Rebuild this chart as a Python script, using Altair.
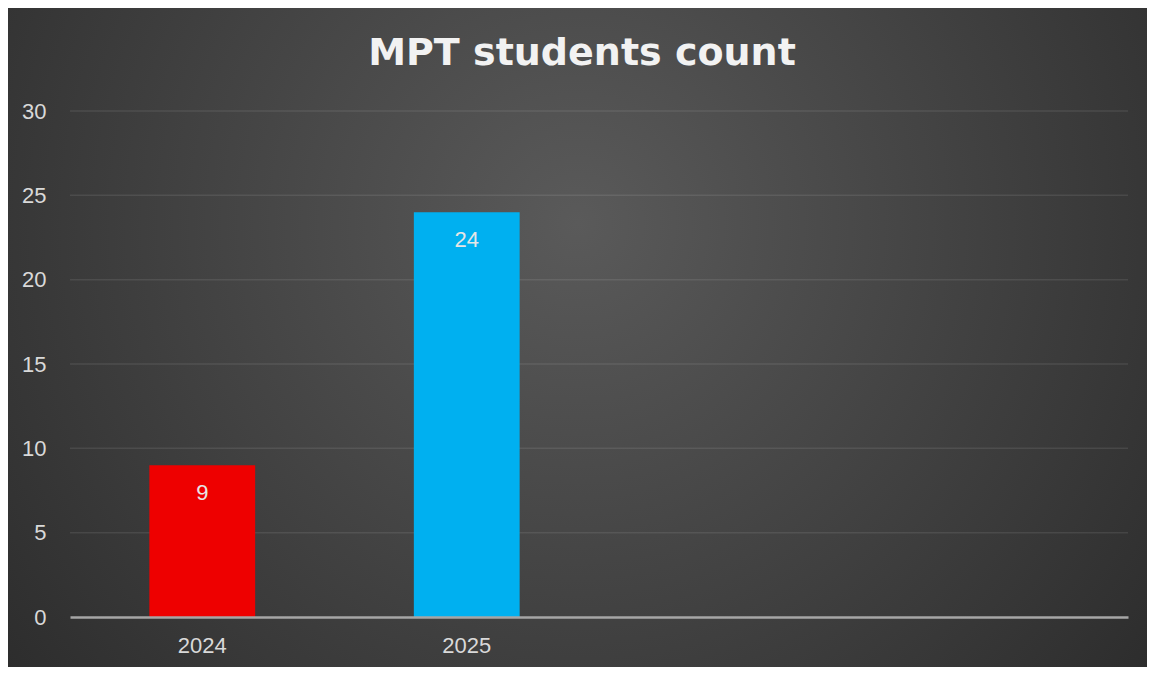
import altair as alt
import pandas as pd

categories = ["2024", "2025"]
values = [9, 24]
bar_colors = ["#EE0000", "#00B0F0"]
x_domain = ["2024", "2025", "slot3", "slot4"]
y_ticks = [0, 5, 10, 15, 20, 25, 30]

W, H = 1058, 506
PAD = {"left": 62, "top": 103, "right": 19, "bottom": 50}

df = pd.DataFrame({"year": categories, "count": values})
bg_df = pd.DataFrame({"k": [0]})
grid_df = pd.DataFrame({"tick": y_ticks[1:]})

xscale = alt.Scale(domain=x_domain, paddingInner=0.6, paddingOuter=0.3)
yscale = alt.Scale(domain=[0, 30])

yaxis = alt.Axis(
    title=None,
    values=y_ticks,
    labelFont="Liberation Sans",
    labelFontSize=22,
    labelColor="#d9d9d9",
    labelPadding=24,
    ticks=False,
    domain=False,
    grid=False,
    zindex=2,
)

bg = alt.Chart(bg_df).mark_rect(
    fill=alt.Gradient(
        gradient="radial",
        stops=[
            alt.GradientStop(offset=0, color="#5a5a5a"),
            alt.GradientStop(offset=1, color="#272727"),
        ],
        x1=0.5, y1=0.4, x2=0.5, y2=0.4, r1=0, r2=0.72,
    ),
).encode(
    x=alt.value(-PAD["left"]),
    x2=alt.value(W + PAD["right"]),
    y=alt.value(-PAD["top"]),
    y2=alt.value(H + PAD["bottom"]),
)

grid = alt.Chart(grid_df).mark_rule(color="#ffffff", opacity=0.09, strokeWidth=1.5).encode(
    y=alt.Y("tick:Q", scale=yscale, axis=yaxis),
    x=alt.value(0),
    x2=alt.value(W),
)

xenc = alt.X(
    "year:N",
    scale=xscale,
    axis=alt.Axis(
        title=None,
        labelAngle=0,
        labelExpr="indexof(['2024','2025'], datum.value) >= 0 ? datum.value : ''",
        labelFont="Liberation Sans",
        labelFontSize=22,
        labelColor="#d9d9d9",
        labelPadding=18,
        ticks=False,
        domainColor="#a6a6a6",
        domainWidth=2.5,
        grid=False,
        zindex=2,
    ),
)

bars = alt.Chart(df).mark_bar().encode(
    x=xenc,
    y=alt.Y("count:Q", scale=yscale, axis=yaxis),
    color=alt.Color("year:N", scale=alt.Scale(domain=categories, range=bar_colors), legend=None),
)

labels = alt.Chart(df).mark_text(
    baseline="middle",
    dy=28,
    font="Liberation Sans",
    fontSize=22,
    color="#e6e6e6",
).encode(
    x=alt.X("year:N", scale=xscale),
    y=alt.Y("count:Q", scale=yscale),
    text="count:Q",
)

chart = alt.layer(bg, grid, bars, labels).properties(
    width=W,
    height=H,
    padding=PAD,
    autosize=alt.AutoSizeParams(type="none"),
    background="#2b2b2b",
    title=alt.TitleParams(
        "MPT students count",
        font="DejaVu Sans",
        fontWeight="bold",
        fontSize=38,
        color="#f2f2f2",
        anchor="middle",
        baseline="alphabetic",
        offset=-95,
        dx=-17,
        zindex=2,
    ),
).configure_view(stroke=None)

chart.save("out.html", embed_options={"renderer": "svg", "actions": False})
